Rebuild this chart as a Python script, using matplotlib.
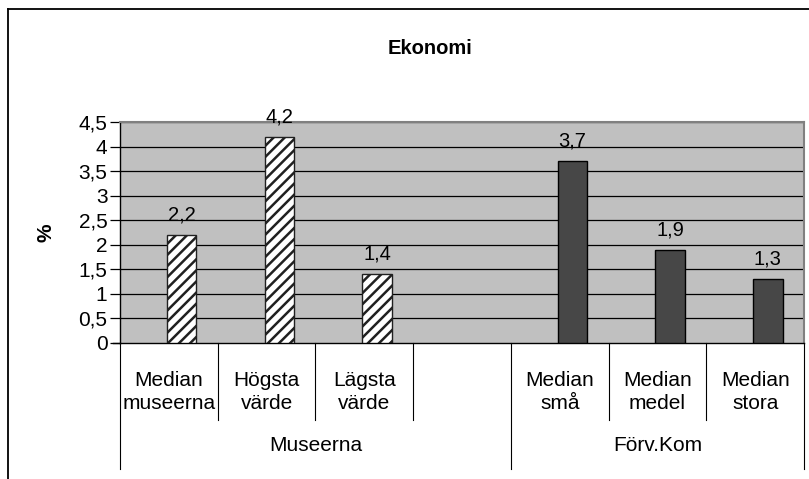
import matplotlib.pyplot as plt
from matplotlib.lines import Line2D
import matplotlib.transforms as mtransforms

# data
categories = ["Median\nmuseerna", "Högsta\nvärde", "Lägsta\nvärde", "",
              "Median\nsmå", "Median\nmedel", "Median\nstora"]
groups = ["Museerna", "Förv.Kom"]
museer_vals = [2.2, 4.2, 1.4]
forv_vals = [3.7, 1.9, 1.3]
yticks = [0, 0.5, 1, 1.5, 2, 2.5, 3, 3.5, 4, 4.5]
ytick_labels = ["0", "0,5", "1", "1,5", "2", "2,5", "3", "3,5", "4", "4,5"]

plt.rcParams['font.family'] = ['Liberation Sans', 'DejaVu Sans']
plt.rcParams['hatch.linewidth'] = 1.8

W, H = 809, 479
fig = plt.figure(figsize=(W / 100, H / 100), dpi=100)
fig.patch.set_facecolor("white")

FS = 15

# plot area in pixels
left, right, top, bottom = 120, 804, 122, 343
ax = fig.add_axes([left / W, (H - bottom) / H, (right - left) / W, (bottom - top) / H])
ax.set_facecolor("#C0C0C0")

n = len(categories)
ax.set_xlim(-0.5, n - 0.5)
ax.set_ylim(0, 4.5)

# bars
mx = [i - 0.02 for i in range(len(museer_vals))]
fx = [4 + i - 0.02 for i in range(len(forv_vals))]
b1 = ax.bar(mx, museer_vals, width=0.3, align="edge", color="white",
            edgecolor="#202020", hatch="///", linewidth=1, zorder=3)
b2 = ax.bar(fx, forv_vals, width=0.3, align="edge", color="#474747",
            edgecolor="black", linewidth=1, zorder=3)
ax.bar_label(b1, labels=[str(v).replace(".", ",") for v in museer_vals],
             padding=7.5, fontsize=14.5)
ax.bar_label(b2, labels=[str(v).replace(".", ",") for v in forv_vals],
             padding=7.5, fontsize=14.5)

# grid
for y in yticks[1:]:
    ax.axhline(y, color="black", linewidth=0.9, zorder=1)

ax.set_yticks(yticks)
ax.set_yticklabels(ytick_labels, fontsize=FS)
ax.tick_params(axis="y", length=7, width=0.9, pad=2)
ax.set_xticks([])

for s in ["left", "bottom"]:
    ax.spines[s].set_color("black")
    ax.spines[s].set_linewidth(1)
for s in ["top", "right"]:
    ax.spines[s].set_color("#808080")
    ax.spines[s].set_linewidth(1.5)

ax.set_ylabel("%", fontsize=FS, fontweight="bold")
ax.yaxis.set_label_coords((56 - left) / (right - left), 0.5)

# category axis (two levels)
trans = mtransforms.blended_transform_factory(ax.transData, ax.transAxes)
ax.plot([-0.57, -0.5], [0, 0], color="black", lw=1, transform=trans, clip_on=False)
for i, lab in enumerate(categories):
    ax.text(i, -0.22, lab, transform=trans, ha="center", va="center",
            fontsize=FS, linespacing=1.28)
inner = [0.5, 1.5, 2.5, 4.5, 5.5]
for b in inner:
    ax.plot([b, b], [0, -0.348], color="black", lw=0.8, transform=trans, clip_on=False)
outer = [-0.5, 3.5, 6.5]
for b in outer:
    ax.plot([b, b], [0, -0.57], color="black", lw=0.8, transform=trans, clip_on=False)
ax.text(1.5, -0.466, groups[0], transform=trans, ha="center", va="center", fontsize=FS)
ax.text(5.0, -0.466, groups[1], transform=trans, ha="center", va="center", fontsize=FS)

# title
fig.text(430 / W, 1 - 48 / H, "Ekonomi", ha="center", va="center",
         fontsize=14.5, fontweight="bold")

# chart frame
fig.add_artist(Line2D([8 / W, 8 / W], [0, 1 - 9 / H], color="black", lw=1.3))
fig.add_artist(Line2D([8 / W, 1], [1 - 9 / H, 1 - 9 / H], color="black", lw=1.3))

fig.savefig("out.png", dpi=100)
